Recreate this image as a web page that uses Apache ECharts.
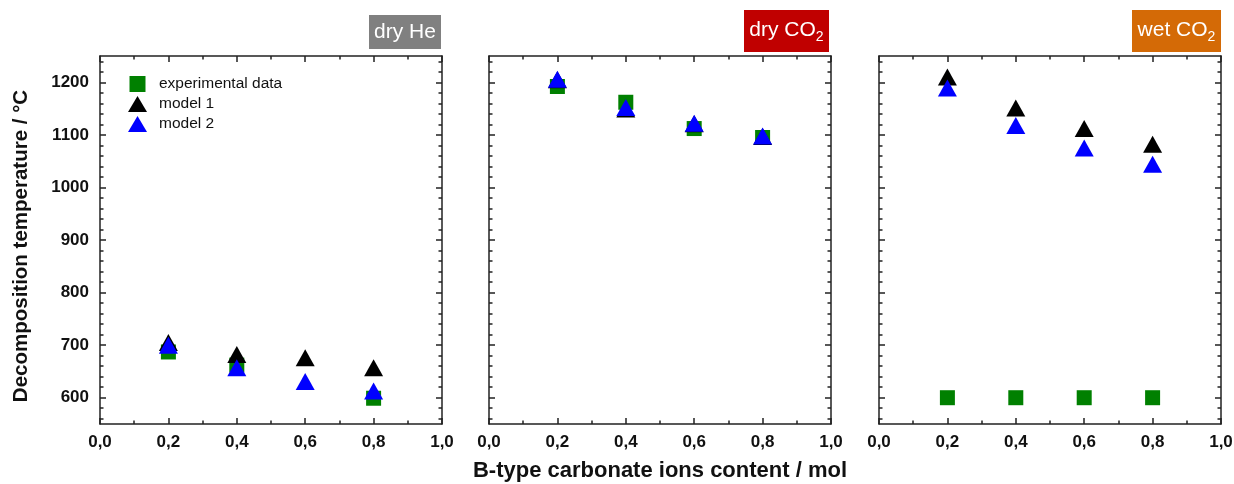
<!DOCTYPE html>
<html style="height: 100%">
<head>
<meta charset="utf-8">
<script src="https://cdn.jsdelivr.net/npm/echarts@6/dist/echarts.min.js"></script>
</head>
<body style="height: 100%; margin: 0; background: #fff">
<div id="container" style="width: 1234px; height: 484px"></div>
<script type="text/javascript">
// x positions shared by all three panels
var xValues = [0.2, 0.4, 0.6, 0.8];

// dry He
var dryHeExp = [687, 662, null, 599];
var dryHeModel1 = [705, 682, 676, 657];
var dryHeModel2 = [700, 657, 631, 613];
// dry CO2
var dryCO2Exp = [1192, 1162, 1112, 1095];
var dryCO2Model1 = [1205, 1149, 1121, 1097];
var dryCO2Model2 = [1206, 1152, 1122, 1098];
// wet CO2
var wetCO2Exp = [600, 600, 600, 600];
var wetCO2Model1 = [1210, 1151, 1112, 1082];
var wetCO2Model2 = [1189, 1118, 1075, 1044];

var yMajorTicks = [600, 700, 800, 900, 1000, 1100, 1200];
var yMinorTicks = [560, 580, 620, 640, 660, 680, 720, 740, 760, 780, 820, 840, 860, 880,
    920, 940, 960, 980, 1020, 1040, 1060, 1080, 1120, 1140, 1160, 1180, 1220, 1240];

var panels = [
    { title: 'dry He', sub: '', color: '#808080', exp: dryHeExp, m1: dryHeModel1, m2: dryHeModel2 },
    { title: 'dry CO', sub: '2', color: '#c00000', exp: dryCO2Exp, m1: dryCO2Model1, m2: dryCO2Model2 },
    { title: 'wet CO', sub: '2', color: '#d46a06', exp: wetCO2Exp, m1: wetCO2Model1, m2: wetCO2Model2 }
];

var font = "'Liberation Sans', Arial, sans-serif";
var axisColor = '#222';
var gridLefts = [100, 489, 879];
var gridWidth = 342;
// label boxes above each panel: [left, top, width, height]
var boxes = [[369, 15, 72, 34], [744, 10, 85, 42], [1132, 10, 89, 42]];

var dom = document.getElementById('container');
var myChart = echarts.init(dom);

function pairs(vals) {
    var res = [];
    for (var i = 0; i < xValues.length; i++) {
        if (vals[i] != null) res.push([xValues[i], vals[i]]);
    }
    return res;
}

var grids = [], xAxes = [], yAxes = [], series = [], graphics = [];

panels.forEach(function (p, i) {
    grids.push({ left: gridLefts[i], width: gridWidth, top: 56, height: 368,
        containLabel: false, outerBoundsMode: 'none' });

    ['bottom', 'top'].forEach(function (pos) {
        xAxes.push({
            type: 'value', gridIndex: i, position: pos,
            min: 0, max: 1, interval: 0.2,
            axisLine: { show: true, onZero: false, lineStyle: { color: axisColor, width: 1.5 } },
            axisTick: { show: true, inside: true, length: 6, lineStyle: { color: axisColor, width: 1.5 } },
            minorTick: { show: true, splitNumber: 2, length: 3.5, lineStyle: { color: axisColor, width: 1.5 } },
            splitLine: { show: false },
            axisLabel: {
                show: pos === 'bottom', margin: 10,
                fontFamily: font, fontWeight: 'bold', fontSize: 17, color: '#111',
                formatter: function (v) { return v.toFixed(1).replace('.', ','); }
            },
            name: (pos === 'bottom' && i === 1) ? 'B-type carbonate ions content / mol' : '',
            nameLocation: 'middle', nameGap: 36,
            nameTextStyle: { fontFamily: font, fontWeight: 'bold', fontSize: 22, color: '#111' }
        });
    });

    ['left', 'right'].forEach(function (pos) {
        var major = {
            type: 'value', gridIndex: i, position: pos,
            min: 550, max: 1250,
            axisLine: { show: true, onZero: false, lineStyle: { color: axisColor, width: 1.5 } },
            axisTick: { show: true, inside: true, length: 6, customValues: yMajorTicks,
                lineStyle: { color: axisColor, width: 1.5 } },
            splitLine: { show: false },
            axisLabel: {
                show: pos === 'left' && i === 0, margin: 11, customValues: yMajorTicks,
                fontFamily: font, fontWeight: 'bold', fontSize: 17, color: '#111',
                formatter: function (v) { return String(v); }
            },
            name: (pos === 'left' && i === 0) ? 'Decomposition temperature / \u00b0C' : '',
            nameLocation: 'middle', nameGap: 68,
            nameTextStyle: { fontFamily: font, fontWeight: 'bold', fontSize: 20.5, color: '#111',
                padding: [0, 12, 0, 0] }
        };
        var minor = {
            type: 'value', gridIndex: i, position: pos,
            min: 550, max: 1250,
            axisLine: { show: false, onZero: false },
            axisTick: { show: true, inside: true, length: 3.5, customValues: yMinorTicks,
                lineStyle: { color: axisColor, width: 1.5 } },
            splitLine: { show: false },
            axisLabel: { show: false }
        };
        yAxes.push(major, minor);
    });

    var xi = i * 2, yi = i * 4;
    series.push({
        name: 'experimental data', type: 'scatter', xAxisIndex: xi, yAxisIndex: yi,
        symbol: 'rect', symbolSize: 15,
        itemStyle: { color: '#008000', opacity: 1 }, data: pairs(p.exp), z: 2
    });
    series.push({
        name: 'model 1', type: 'scatter', xAxisIndex: xi, yAxisIndex: yi,
        symbol: 'triangle', symbolSize: [19, 17],
        itemStyle: { color: '#000000', opacity: 1 }, data: pairs(p.m1), z: 3
    });
    series.push({
        name: 'model 2', type: 'scatter', xAxisIndex: xi, yAxisIndex: yi,
        symbol: 'triangle', symbolSize: [19, 17],
        itemStyle: { color: '#0000ff', opacity: 1 }, data: pairs(p.m2), z: 4
    });

    // coloured condition label box
    var b = boxes[i];
    graphics.push({
        type: 'rect', left: b[0], top: b[1],
        shape: { width: b[2], height: b[3] },
        style: { fill: p.color }
    });
    graphics.push({
        type: 'text', x: b[0] + b[2] / 2, y: b[1] + b[3] / 2 - (p.sub ? 1 : 0),
        style: {
            text: p.sub ? '{t|' + p.title + '}{s|' + p.sub + '}' : '{t|' + p.title + '}',
            align: 'center', verticalAlign: 'middle',
            rich: {
                t: { fontFamily: font, fontSize: 21, fill: '#fff', lineHeight: 28 },
                s: { fontFamily: font, fontSize: 14, fill: '#fff', lineHeight: 10, verticalAlign: 'bottom' }
            }
        }
    });
});

var option = {
    backgroundColor: '#fff',
    animation: false,
    graphic: graphics,
    legend: {
        orient: 'vertical', left: 123, top: 71,
        itemWidth: 19, itemHeight: 16, itemGap: 4,
        textStyle: { fontFamily: font, fontSize: 15.5, color: '#111', padding: [0, 0, 0, 7] },
        data: [
            { name: 'experimental data', icon: 'path://M0,0L1,0L1,1L0,1Z' },
            { name: 'model 1' },
            { name: 'model 2' }
        ]
    },
    grid: grids,
    xAxis: xAxes,
    yAxis: yAxes,
    series: series
};

if (option && typeof option === 'object') {
    myChart.setOption(option, true);
}
</script>
</body>
</html>
